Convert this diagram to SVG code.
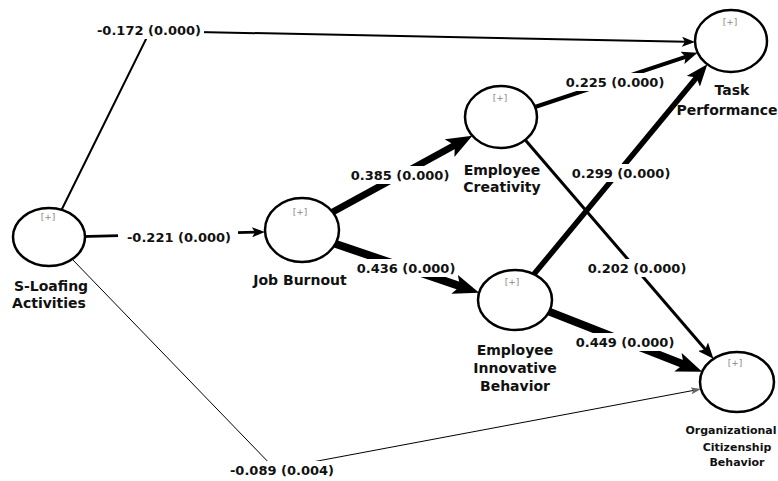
<svg xmlns="http://www.w3.org/2000/svg" width="778" height="481" viewBox="0 0 778 481">
<style>
.node{fill:#fff;stroke:#000;stroke-width:2.5}
.plus{font-family:"DejaVu Sans",sans-serif;font-size:9px;fill:#888;text-anchor:middle}
.nl{font-family:"DejaVu Sans",sans-serif;font-weight:bold;font-size:14px;fill:#111;text-anchor:middle}
.nls{font-family:"DejaVu Sans",sans-serif;font-weight:bold;font-size:11px;fill:#111;text-anchor:middle}
.el{font-family:"DejaVu Sans",sans-serif;font-weight:bold;font-size:13px;fill:#111;text-anchor:middle}
.bg{fill:#fff}
.e{fill:none;stroke:#000;stroke-linecap:butt;stroke-linejoin:miter}
</style>
<defs>
<marker id="m1" markerUnits="userSpaceOnUse" markerWidth="10" markerHeight="7" refX="3" refY="3.5" orient="auto"><path d="M0,0 L10,3.5 L0,7 L2,3.5 z" fill="#666"/></marker>
<marker id="m2" markerUnits="userSpaceOnUse" markerWidth="13" markerHeight="10" refX="4" refY="5" orient="auto"><path d="M0,0 L13,5 L0,10 L3,5 z" fill="#000"/></marker>
<marker id="m3" markerUnits="userSpaceOnUse" markerWidth="16" markerHeight="13" refX="5" refY="6.5" orient="auto"><path d="M0,0 L16,6.5 L0,13 L3.5,6.5 z" fill="#000"/></marker>
<marker id="m4" markerUnits="userSpaceOnUse" markerWidth="22" markerHeight="17" refX="7" refY="8.5" orient="auto"><path d="M0,0 L22,8.5 L0,17 L5,8.5 z" fill="#000"/></marker>
<marker id="m5" markerUnits="userSpaceOnUse" markerWidth="26" markerHeight="20" refX="8" refY="10" orient="auto"><path d="M0,0 L26,10 L0,20 L6,10 z" fill="#000"/></marker>
</defs>
<g id="connectors">
<path class="e" d="M60,213 L150,31 L686,41.8" stroke-width="2" marker-end="url(#m2)"/>
<path class="e" d="M80,236.6 L256,232.2" stroke-width="2.8" marker-end="url(#m2)"/>
<path class="e" d="M72,259 L275,469 L694.1,390.3" stroke="#888" stroke-width="1" marker-end="url(#m1)"/>
<path class="e" d="M330,213.5 L456.6,144.3" stroke-width="7" marker-end="url(#m5)"/>
<path class="e" d="M330,242 L462.1,286.9" stroke-width="8" marker-end="url(#m5)"/>
<path class="e" d="M532,108 L687.1,56.3" stroke-width="4" marker-end="url(#m3)"/>
<path class="e" d="M524,138.5 L706.3,350.5" stroke-width="3" marker-end="url(#m3)"/>
<path class="e" d="M532,276.6 L697.8,75.9" stroke-width="5.5" marker-end="url(#m4)"/>
<path class="e" d="M546,310.4 L685.4,365.1" stroke-width="8" marker-end="url(#m5)"/>
<g id="labels">
<rect class="bg" x="92" y="21" width="112" height="18"/><text class="el" x="149" y="35" font-size="13.5">-0.172 (0.000)</text>
<rect class="bg" x="118" y="228" width="120" height="18"/><text class="el" x="179" y="242" font-size="13.5">-0.221 (0.000)</text>
<rect class="bg" x="228" y="461" width="106" height="20"/><text class="el" x="282" y="475">-0.089 (0.004)</text>
<rect class="bg" x="349" y="166" width="102" height="18"/><text class="el" x="400" y="180">0.385 (0.000)</text>
<rect class="bg" x="355" y="259" width="102" height="18"/><text class="el" x="406" y="273">0.436 (0.000)</text>
<rect class="bg" x="564" y="73" width="102" height="18"/><text class="el" x="615" y="87">0.225 (0.000)</text>
<rect class="bg" x="570" y="164" width="102" height="18"/><text class="el" x="621" y="178">0.299 (0.000)</text>
<rect class="bg" x="586" y="259" width="102" height="18"/><text class="el" x="637" y="273">0.202 (0.000)</text>
<rect class="bg" x="574" y="333" width="102" height="18"/><text class="el" x="625" y="347">0.449 (0.000)</text>
</g>
</g>
<g id="sloafing">
<ellipse class="node" cx="49" cy="237" rx="36" ry="29"/>
<text class="plus" x="48" y="220">[+]</text>
<text class="nl" x="51" y="291">S-Loafing</text>
<text class="nl" x="49" y="308">Activities</text>
</g>
<g id="jobburnout">
<ellipse class="node" cx="302" cy="230" rx="37" ry="32"/>
<text class="plus" x="300" y="215">[+]</text>
<text class="nl" x="300" y="285">Job Burnout</text>
</g>
<g id="creativity">
<ellipse class="node" cx="501" cy="117" rx="36" ry="31"/>
<text class="plus" x="500" y="101">[+]</text>
<text class="nl" x="502" y="175">Employee</text>
<text class="nl" x="502" y="192">Creativity</text>
</g>
<g id="innovative">
<ellipse class="node" cx="515" cy="300" rx="37" ry="30"/>
<text class="plus" x="512" y="285">[+]</text>
<text class="nl" x="515" y="355">Employee</text>
<text class="nl" x="515" y="373">Innovative</text>
<text class="nl" x="515" y="391">Behavior</text>
</g>
<g id="task">
<ellipse class="node" cx="731" cy="41" rx="36" ry="31"/>
<text class="plus" x="730" y="25">[+]</text>
<text class="nl" x="732" y="95">Task</text>
<text class="nl" x="727" y="115" font-size="13.5">Performance</text>
</g>
<g id="ocb">
<ellipse class="node" cx="737" cy="382" rx="37" ry="30"/>
<text class="plus" x="735" y="366">[+]</text>
<text class="nls" x="731" y="434">Organizational</text>
<text class="nls" x="737" y="451">Citizenship</text>
<text class="nls" x="737" y="466">Behavior</text>
</g>
</svg>
